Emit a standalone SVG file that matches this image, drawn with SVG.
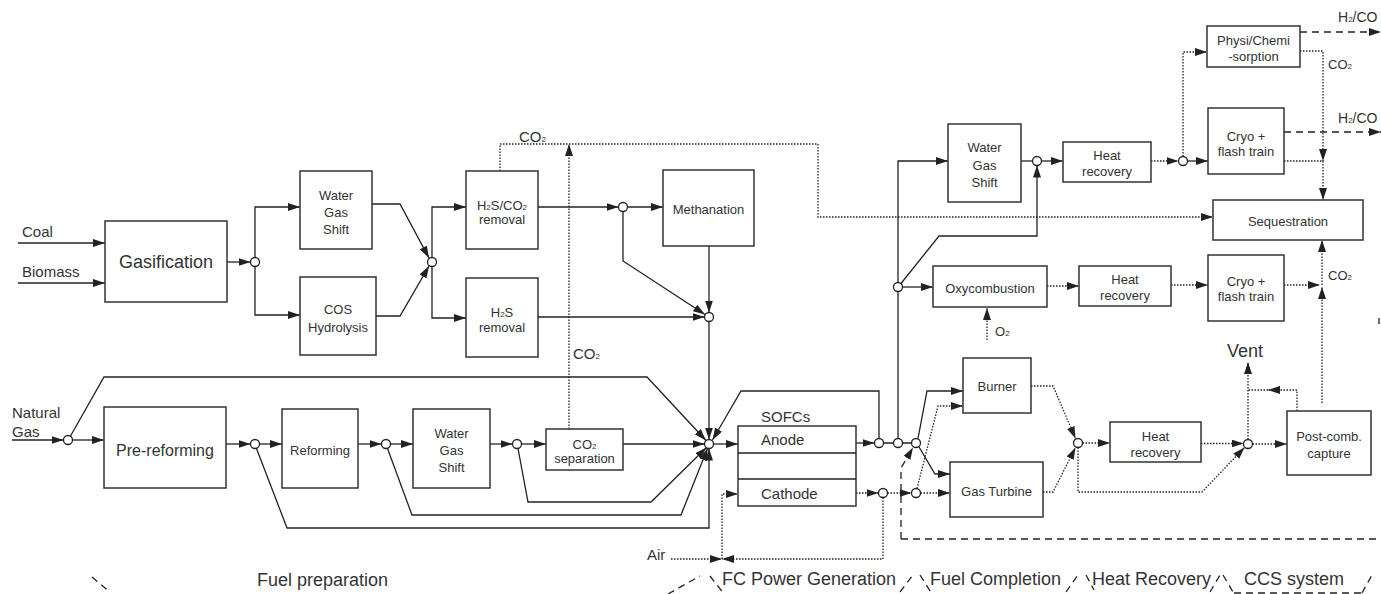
<svg xmlns="http://www.w3.org/2000/svg" width="1381" height="594" viewBox="0 0 1381 594">
<style>
.box{fill:#fff;stroke:#333;stroke-width:1.5}
.ln{fill:none;stroke:#222;stroke-width:1.3}
.dot{fill:none;stroke:#222;stroke-width:1.3;stroke-dasharray:1.5 1.5}
.dash{fill:none;stroke:#222;stroke-width:1.3;stroke-dasharray:7 5}
.jn{fill:#fff;stroke:#222;stroke-width:1.3}
.a{marker-end:url(#ah)}
text{font-family:"Liberation Sans",Arial,sans-serif;fill:#333}
.t13{font-size:13px;text-anchor:middle}
.t15{font-size:15px}
.t18{font-size:18px}
.sub{font-size:8px}
</style>
<defs>
<marker id="ah" viewBox="0 0 12 8" refX="12" refY="4" markerWidth="12" markerHeight="8" markerUnits="userSpaceOnUse" orient="auto">
<path d="M0,0 L12,4 L0,8 z" fill="#222"/>
</marker>
</defs>

<g id="connectors">
<!-- coal / biomass -->
<path class="ln a" d="M18,243 H105"/>
<path class="ln a" d="M18,283 H105"/>
<path class="ln a" d="M227,262 H250.5"/>
<path class="ln a" d="M255,257.5 V207 H300"/>
<path class="ln a" d="M255,266.5 V315 H300"/>
<path class="ln a" d="M372,204 H400 L429,258"/>
<path class="ln a" d="M376,316 H400 L429,266"/>
<path class="ln a" d="M432,257.5 V207 H466"/>
<path class="ln a" d="M432,266.5 V318 H466"/>
<path class="ln a" d="M538,207 H618.5"/>
<path class="ln a" d="M627.5,207 H663"/>
<path class="ln a" d="M623,211.5 V261 L705,314.5"/>
<path class="ln a" d="M709,246 V312.5"/>
<path class="ln a" d="M538,317 H704.5"/>
<path class="ln a" d="M709,321.5 V439.5"/>
<path class="dot a" d="M500,171 V144 H818 V217 H1213"/>
<path class="dot a" d="M569,429 V144"/>
<!-- natural gas -->
<path class="ln a" d="M12,440 H63.5"/>
<path class="ln a" d="M72.5,440 H104"/>
<path class="ln a" d="M70.5,436 L104,377 H647 L706,440.5"/>
<path class="ln a" d="M226,444 H250.5"/>
<path class="ln a" d="M259.5,444 H282"/>
<path class="ln a" d="M358,444 H381.5"/>
<path class="ln a" d="M390.5,444 H413"/>
<path class="ln a" d="M490,444 H512.5"/>
<path class="ln a" d="M521.5,444 H546"/>
<path class="ln a" d="M623,444 H704.5"/>
<path class="ln a" d="M518,448.5 L528,502 H651 L706.5,447.5"/>
<path class="ln a" d="M387.5,448.5 L412,515 H681 L707.5,448.5"/>
<path class="ln a" d="M256.5,448.5 L287,528 H709 V448.5"/>
<path class="ln a" d="M713.5,444 H738"/>
<path class="ln a" d="M879,438.5 V391 H741 L712.5,440"/>
<!-- SOFC outlets -->
<path class="ln a" d="M856,443 H874.5"/>
<path class="ln" d="M883.5,443 H893.5 M902.5,443 H911.5"/>
<path class="ln" d="M898,438.5 V291.5"/>
<path class="ln a" d="M898,282.5 V161 H948"/>
<path class="ln a" d="M902.5,287 H933"/>
<path class="ln a" d="M901,283.5 L939,236 H1037 V165.5"/>
<path class="ln" d="M1021,161 H1032.5"/>
<path class="ln a" d="M1041.5,161 H1063"/>
<path class="dot a" d="M1151,161 H1178.5"/>
<path class="ln a" d="M1187.5,161 H1208"/>
<path class="dot a" d="M1183,156.5 V52 H1207"/>
<path class="dash a" d="M1300,32 H1381"/>
<path class="dot a" d="M1300,51 H1323 V161"/>
<path class="dot a" d="M1284,161 H1323 V200"/>
<path class="dash a" d="M1284,132 H1381"/>
<path class="dot a" d="M1047,286 H1079"/>
<path class="dot a" d="M1171,285 H1208"/>
<path class="dot a" d="M1284,285 H1320"/>
<path class="dot a" d="M1322,403 V287"/>
<path class="dot a" d="M1322,285 V240"/>
<path class="dot a" d="M987,340 V308"/>
<path class="ln a" d="M918,438.5 L927,391 H963"/>
<path class="ln a" d="M919,447 L935,474 H950"/>
<path class="dash a" d="M901,539 V468 L913,447.5"/>
<path class="dash" d="M901,539 H1381"/>
<path class="dot a" d="M856,493 H878.5"/>
<path class="dot a" d="M887.5,493 H911.5"/>
<path class="dot a" d="M920.5,493 H950"/>
<path class="dot a" d="M917,488.5 L938,406 H963"/>
<path class="dot a" d="M883,497.5 V559 H722"/>
<path class="dot a" d="M671,559 H722"/>
<path class="dot a" d="M722,559 V494 H738"/>
<path class="dot a" d="M1031,386 H1053 L1075.5,438.5"/>
<path class="dot a" d="M1043,492 H1053 L1075.5,447.5"/>
<path class="dot a" d="M1082.5,443 H1110"/>
<path class="dot a" d="M1078,447.5 V492 H1202 L1244.5,447.5"/>
<path class="dot a" d="M1201,443.5 H1243.5"/>
<path class="dot a" d="M1252.5,444 H1287"/>
<path class="dot a" d="M1248,439.5 V362"/>
<path class="dot a" d="M1297,411 V390 H1268"/>
<path class="dot" d="M1268,390 H1248"/>
<path class="ln" d="M1379,318 V324"/>
</g>

<g id="junctions">
<circle class="jn" cx="255" cy="262" r="4.5"/>
<circle class="jn" cx="432" cy="262" r="4.5"/>
<circle class="jn" cx="623" cy="207" r="4.5"/>
<circle class="jn" cx="709" cy="317" r="4.5"/>
<circle class="jn" cx="68" cy="440" r="4.5"/>
<circle class="jn" cx="255" cy="444" r="4.5"/>
<circle class="jn" cx="386" cy="444" r="4.5"/>
<circle class="jn" cx="517" cy="444" r="4.5"/>
<circle class="jn" cx="709" cy="444" r="4.5"/>
<circle class="jn" cx="879" cy="443" r="4.5"/>
<circle class="jn" cx="898" cy="443" r="4.5"/>
<circle class="jn" cx="916" cy="443" r="4.5"/>
<circle class="jn" cx="898" cy="287" r="4.5"/>
<circle class="jn" cx="1037" cy="161" r="4.5"/>
<circle class="jn" cx="1183" cy="161" r="4.5"/>
<circle class="jn" cx="883" cy="493" r="4.5"/>
<circle class="jn" cx="916" cy="493" r="4.5"/>
<circle class="jn" cx="1078" cy="443" r="4.5"/>
<circle class="jn" cx="1248" cy="444" r="4.5"/>
</g>

<g id="gasification"><rect class="box" x="105" y="221" width="122" height="81"/><text class="t18" x="166" y="268" text-anchor="middle">Gasification</text></g>
<g id="wgs1"><rect class="box" x="300" y="171" width="72" height="78"/><text class="t13" x="336" y="199.5">Water</text><text class="t13" x="336" y="216.5">Gas</text><text class="t13" x="336" y="233.5">Shift</text></g>
<g id="cos"><rect class="box" x="300" y="277" width="76" height="78"/><text class="t13" x="338" y="313.5">COS</text><text class="t13" x="338" y="331.5">Hydrolysis</text></g>
<g id="h2sco2"><rect class="box" x="466" y="171" width="72" height="78"/><text class="t13" x="502" y="209.5">H<tspan class="sub">2</tspan>S/CO<tspan class="sub">2</tspan></text><text class="t13" x="502" y="223.5">removal</text></g>
<g id="h2s"><rect class="box" x="466" y="278" width="72" height="79"/><text class="t13" x="502" y="316.5">H<tspan class="sub">2</tspan>S</text><text class="t13" x="502" y="331.5">removal</text></g>
<g id="methanation"><rect class="box" x="663" y="170" width="91" height="76"/><text class="t13" x="708.5" y="213.5">Methanation</text></g>
<g id="prereforming"><rect class="box" x="104" y="407" width="122" height="81"/><text x="165" y="455.5" text-anchor="middle" font-size="16">Pre-reforming</text></g>
<g id="reforming"><rect class="box" x="282" y="409" width="76" height="79"/><text class="t13" x="320" y="454.5">Reforming</text></g>
<g id="wgs3"><rect class="box" x="413" y="409" width="77" height="79"/><text class="t13" x="451.5" y="437.5">Water</text><text class="t13" x="451.5" y="455">Gas</text><text class="t13" x="451.5" y="472">Shift</text></g>
<g id="co2sep"><rect class="box" x="546" y="429" width="77" height="41"/><text class="t13" x="584.5" y="448.5">CO<tspan class="sub">2</tspan></text><text class="t13" x="584.5" y="462.5">separation</text></g>
<g id="sofc"><rect class="box" x="738" y="426" width="118" height="80"/><path class="ln" d="M738,453 H856 M738,479 H856"/><text class="t15" x="761" y="422">SOFCs</text><text class="t15" x="761" y="444.5">Anode</text><text class="t15" x="761" y="498.5">Cathode</text></g>
<g id="wgs2"><rect class="box" x="948" y="124" width="73" height="78"/><text class="t13" x="984.5" y="151.5">Water</text><text class="t13" x="984.5" y="169.5">Gas</text><text class="t13" x="984.5" y="186.5">Shift</text></g>
<g id="heatrec1"><rect class="box" x="1063" y="142" width="88" height="40"/><text class="t13" x="1107" y="159.5">Heat</text><text class="t13" x="1107" y="175.5">recovery</text></g>
<g id="physi"><rect class="box" x="1207" y="26" width="93" height="41"/><text class="t13" x="1253.5" y="44.5">Physi/Chemi</text><text class="t13" x="1253.5" y="60.5">-sorption</text></g>
<g id="cryo1"><rect class="box" x="1208" y="108" width="76" height="66"/><text class="t13" x="1246" y="140.5">Cryo +</text><text class="t13" x="1246" y="155.5">flash train</text></g>
<g id="sequestration"><rect class="box" x="1213" y="200" width="150" height="40"/><text class="t13" x="1288" y="225.5">Sequestration</text></g>
<g id="oxy"><rect class="box" x="933" y="266" width="114" height="41"/><text class="t13" x="990" y="292.5">Oxycombustion</text></g>
<g id="heatrec2"><rect class="box" x="1079" y="266" width="92" height="40"/><text class="t13" x="1125" y="283.5">Heat</text><text class="t13" x="1125" y="299.5">recovery</text></g>
<g id="cryo2"><rect class="box" x="1208" y="255" width="76" height="66"/><text class="t13" x="1246" y="285.5">Cryo +</text><text class="t13" x="1246" y="300.5">flash train</text></g>
<g id="burner"><rect class="box" x="963" y="358" width="68" height="55"/><text class="t13" x="997" y="390.5">Burner</text></g>
<g id="gasturbine"><rect class="box" x="950" y="462" width="93" height="55"/><text class="t13" x="996.5" y="495.5">Gas Turbine</text></g>
<g id="heatrec3"><rect class="box" x="1110" y="422" width="91" height="40"/><text class="t13" x="1155.5" y="440.5">Heat</text><text class="t13" x="1155.5" y="456.5">recovery</text></g>
<g id="postcomb"><rect class="box" x="1287" y="411" width="84" height="64"/><text class="t13" x="1329" y="440.5">Post-comb.</text><text class="t13" x="1329" y="457.5">capture</text></g>

<g id="labels">
<text class="t15" x="22" y="237">Coal</text>
<text class="t15" x="22" y="277">Biomass</text>
<text class="t15" x="12" y="418">Natural</text>
<text class="t15" x="12" y="437">Gas</text>
<text class="t15" x="519" y="142">CO<tspan class="sub">2</tspan></text>
<text class="t15" x="573" y="359">CO<tspan class="sub">2</tspan></text>
<text x="1328" y="69" font-size="13">CO<tspan class="sub">2</tspan></text>
<text x="1328" y="280" font-size="13">CO<tspan class="sub">2</tspan></text>
<text x="1338" y="22" font-size="14">H<tspan class="sub">2</tspan>/CO</text>
<text x="1338" y="123" font-size="14">H<tspan class="sub">2</tspan>/CO</text>
<text x="995" y="336" font-size="13">O<tspan class="sub">2</tspan></text>
<text class="t18" x="1245" y="357" text-anchor="middle">Vent</text>
<text class="t15" x="647" y="560">Air</text>
<text class="t18" x="257" y="586">Fuel preparation</text>
<text class="t18" x="722" y="585">FC Power Generation</text>
<text class="t18" x="930" y="585">Fuel Completion</text>
<text class="t18" x="1092" y="585">Heat Recovery</text>
<text class="t18" x="1244" y="585">CCS system</text>
</g>

<g id="zones">
<path class="dash" d="M92,577 L110,592"/>
<path class="dash" d="M668,594 L700,576"/>
<path class="dash" d="M710,576 L724,594"/>
<path class="dash" d="M900,592 L913,575"/>
<path class="dash" d="M920,575 L932,594"/>
<path class="dash" d="M1066,592 L1078,575"/>
<path class="dash" d="M1086,575 L1094,590"/>
<path class="dash" d="M1210,592 L1220,575"/>
<path class="dash" d="M1223,575 L1233,592"/>
<path class="dash" d="M1234,593 H1362"/>
<path class="dash" d="M1362,593 L1372,575"/>
</g>
</svg>
